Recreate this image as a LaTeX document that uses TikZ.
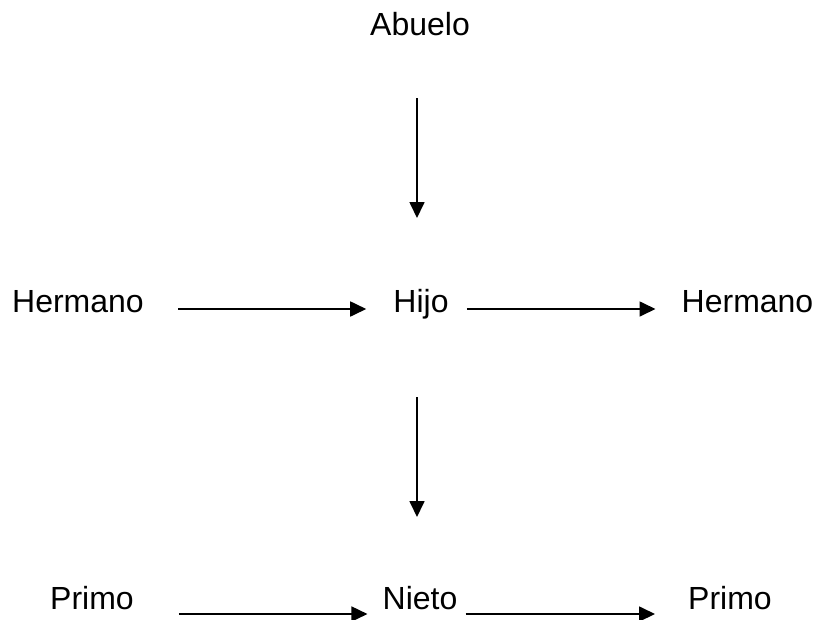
\documentclass[tikz,border=0pt]{standalone}
\usepackage{fontspec}
\setmainfont{Liberation Sans}
\usetikzlibrary{arrows.meta}

\tikzset{
  nombre/.style={inner sep=0pt, anchor=base, font=\fontsize{32}{38}\selectfont},
  flecha/.style={line width=1.7pt, -{Triangle[length=16pt,width=15pt]}}
}

\begin{document}
\begin{tikzpicture}[x=1pt,y=-1pt]
\useasboundingbox (0,0) rectangle (814,619);
% nombres
\node[nombre] (abuelo) at (420,35) {Abuelo};
\node[nombre] (hermizq) at (78,312.5) {Hermano};
\node[nombre] (hijo) at (421,312.5) {Hijo};
\node[nombre] (hermder) at (747.5,312.5) {Hermano};
\node[nombre] (primoizq) at (92,609) {Primo};
\node[nombre] (nieto) at (420,609) {Nieto};
\node[nombre] (primoder) at (730,609) {Primo};
% flechas
\draw[flecha] ([xshift=-3pt,yshift=-63pt]abuelo.base) -- ([xshift=-4pt,yshift=94.5pt]hijo.base);
\draw[flecha] ([xshift=34pt,yshift=3.5pt]hermizq.base east) -- ([xshift=-27pt,yshift=3.5pt]hijo.base west);
\draw[flecha] ([xshift=18pt,yshift=3.5pt]hijo.base east) -- ([xshift=-26pt,yshift=3.5pt]hermder.base west);
\draw[flecha] ([xshift=-4pt,yshift=-84.5pt]hijo.base) -- ([xshift=-3pt,yshift=92pt]nieto.base);
\draw[flecha] ([xshift=45pt,yshift=-5pt]primoizq.base east) -- ([xshift=-15pt,yshift=-5pt]nieto.base west);
\draw[flecha] ([xshift=8pt,yshift=-5pt]nieto.base east) -- ([xshift=-33pt,yshift=-5pt]primoder.base west);
\end{tikzpicture}
\end{document}
